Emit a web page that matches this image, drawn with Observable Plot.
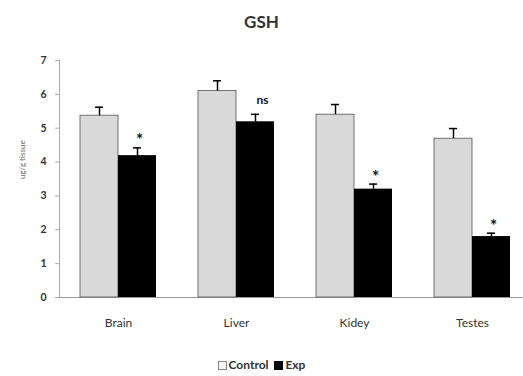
<!DOCTYPE html>
<html><head><meta charset="utf-8">
<script src="https://cdn.jsdelivr.net/npm/d3@7"></script>
<script src="https://cdn.jsdelivr.net/npm/@observablehq/plot@0.6"></script>
<style>
body{margin:0;background:#fff;font-family:Lato,"Open Sans",sans-serif;width:523px;height:376px;overflow:hidden}
#title{height:40px;line-height:44px;text-align:center;font-weight:bold;font-size:17px;color:#333}
#legend{margin-top:20px;text-align:center;font-size:12px;color:#333;font-weight:bold}
.sw{display:inline-block;width:9px;height:9px;vertical-align:-1px;margin-right:2px}
</style></head>
<body>
<div id="title">GSH</div>
<div id="chart"></div>
<div id="legend"><span class="sw" style="background:#f4f4f4;border:1px solid #888;box-sizing:border-box"></span>Control&nbsp;&nbsp;<span class="sw" style="background:#000"></span>Exp</div>
<script>
const organs = ["Brain", "Liver", "Kidey", "Testes"];
const control = [5.37, 6.1, 5.4, 4.69];
const exp = [4.19, 5.19, 3.2, 1.8];
const controlErr = [0.25, 0.3, 0.3, 0.3];
const expErr = [0.23, 0.22, 0.15, 0.1];
const signif = ["*", "ns", "*", "*"];
const yTicks = [0, 1, 2, 3, 4, 5, 6, 7];

const ctrlRows = organs.map((o, i) => ({organ: o, value: control[i], err: controlErr[i]}));
const expRows = organs.map((o, i) => ({organ: o, value: exp[i], err: expErr[i], sig: signif[i]}));
const errTop = d => d.value + d.err;

const chart = Plot.plot({
  width: 523, height: 297,
  marginTop: 20, marginLeft: 59, marginRight: -8, marginBottom: 40,
  style: {fontFamily: "Lato, 'Open Sans', sans-serif", color: "#333"},
  x: {domain: organs, padding: 0, axis: null},
  y: {domain: [0, 7], axis: null},
  marks: [
    Plot.ruleY([0], {stroke: "#999"}),
    Plot.frame({anchor: "left", stroke: "#aaa"}),
    Plot.axisY({ticks: yTicks, tickFormat: d3.format("d"), tickSize: 4, stroke: "#aaa", fontSize: 10.5, fontWeight: "bold", tickPadding: 9, label: null}),
    Plot.text(["ug/g tissue"], {frameAnchor: "left", dx: -37, rotate: -90, fontSize: 8, fill: "#666"}),
    Plot.barY(ctrlRows, {x: "organ", y: "value", fill: "#d9d9d9", stroke: "#555", strokeWidth: 0.8, insetLeft: 21, insetRight: 59}),
    Plot.barY(expRows, {x: "organ", y: "value", fill: "#000", insetLeft: 59, insetRight: 21}),
    Plot.ruleX(ctrlRows, {x: "organ", y1: "value", y2: errTop, dx: -19, stroke: "#000", strokeWidth: 1.5}),
    Plot.ruleX(expRows, {x: "organ", y1: "value", y2: errTop, dx: 19, stroke: "#000", strokeWidth: 1.5}),
    Plot.tickY(ctrlRows, {x: "organ", y: errTop, stroke: "#000", strokeWidth: 1.5, insetLeft: 36, insetRight: 74}),
    Plot.tickY(expRows, {x: "organ", y: errTop, stroke: "#000", strokeWidth: 1.5, insetLeft: 74, insetRight: 36}),
    Plot.text(expRows.filter(d => d.sig === "*"), {x: "organ", y: errTop, text: "sig", dx: 21, dy: -7, fontSize: 17, fontWeight: "bold", fill: "#111"}),
    Plot.text(expRows.filter(d => d.sig === "ns"), {x: "organ", y: errTop, text: "sig", dx: 26, dy: -14, fontSize: 12, fontWeight: "bold", fill: "#111"}),
    Plot.axisX({anchor: "bottom", tickSize: 0, fontSize: 12, tickPadding: 21, label: null})
  ]
});
document.getElementById("chart").appendChild(chart);
</script>
</body></html>
